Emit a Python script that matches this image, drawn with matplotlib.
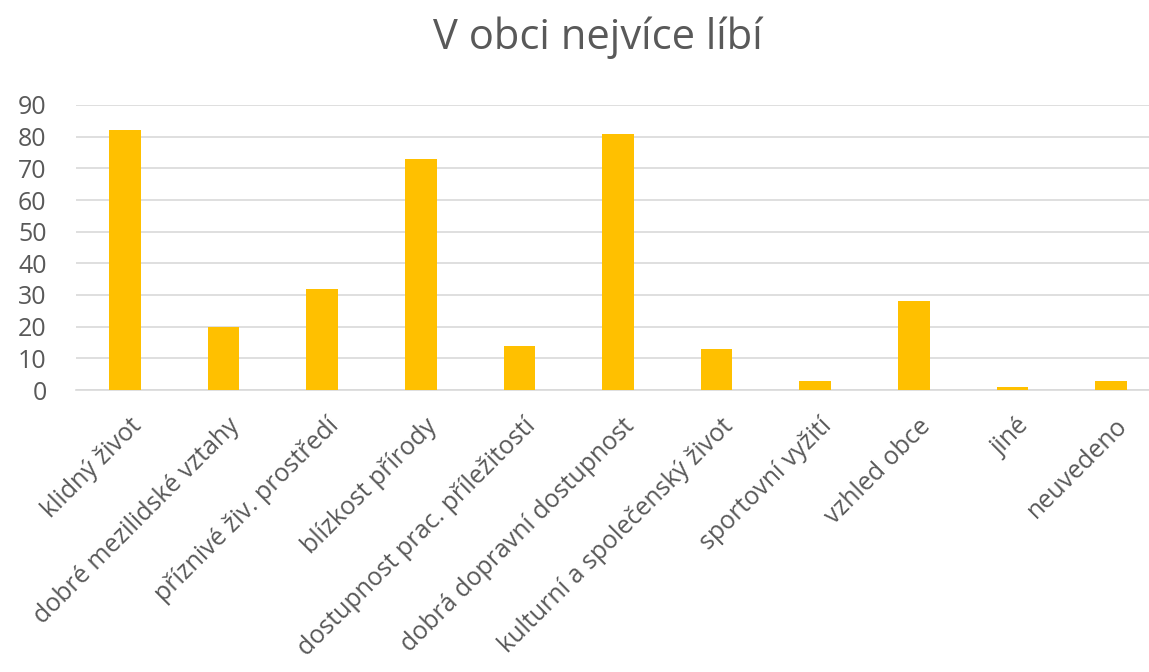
import numpy as np
import matplotlib.pyplot as plt
from matplotlib.transforms import ScaledTranslation

# Data
kategorie = ['klidný život', 'dobré mezilidské vztahy', 'příznivé živ. prostředí',
             'blízkost přírody', 'dostupnost prac. příležitostí', 'dobrá dopravní dostupnost',
             'kulturní a společenský život', 'sportovní vyžití', 'vzhled obce', 'jiné', 'neuvedeno']
hodnoty = [82, 20, 32, 73, 14, 81, 13, 3, 28, 1, 3]
y_ticks = [0, 10, 20, 30, 40, 50, 60, 70, 80, 90]

plt.rcParams['font.family'] = ['Open Sans', 'DejaVu Sans']
seda = '#595959'

fig = plt.figure(figsize=(11.49, 6.72), dpi=100)
ax = fig.add_axes([75.7 / 1149, 1 - 390 / 672, 1084.6 / 1149, 285 / 672])

x = np.arange(len(kategorie))
ax.bar(x, hodnoty, width=0.32, color='#FFC000', zorder=3)

ax.set_xlim(-0.5, len(kategorie) - 0.5)
ax.set_ylim(0, 90)
ax.set_yticks(y_ticks)
ax.yaxis.grid(True, color='#D9D9D9', linewidth=1.2, zorder=0)
for s in ['top', 'right', 'left']:
    ax.spines[s].set_visible(False)
ax.spines['bottom'].set_color('#D9D9D9')
ax.spines['bottom'].set_linewidth(1.2)
ax.tick_params(axis='both', length=0, colors=seda, labelsize=18)
ax.tick_params(axis='y', pad=21)
ax.tick_params(axis='x', pad=17)

ax.set_xticks(x)
ax.set_xticklabels(kategorie, rotation=45, ha='right', va='top', rotation_mode='anchor')
posun = ScaledTranslation(4 / 100, 0, fig.dpi_scale_trans)
for lbl in ax.get_xticklabels():
    lbl.set_transform(lbl.get_transform() + posun)

fig.text(0.52, 1 - 38 / 672, 'V obci nejvíce líbí', ha='center', va='center',
         fontsize=30, color=seda)

fig.savefig('out.png', dpi=100)
